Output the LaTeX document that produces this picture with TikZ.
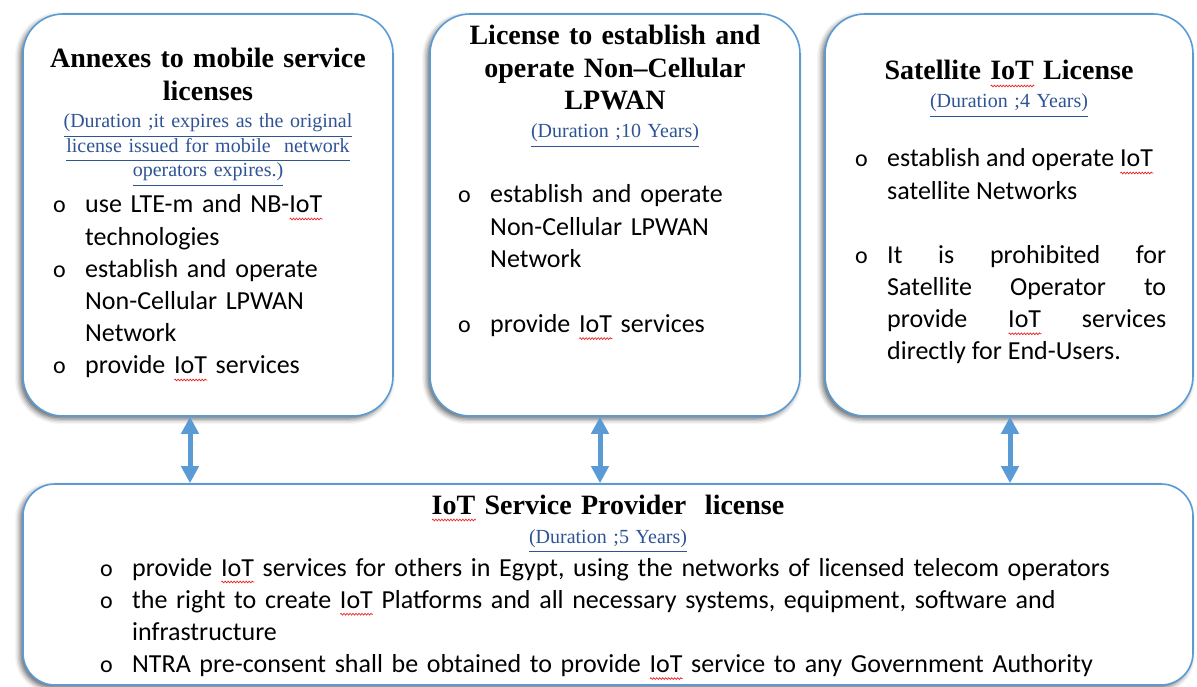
\documentclass[tikz,border=0pt]{standalone}
\usepackage{fontspec}
\setmainfont{Carlito}
\newfontfamily\serifface{Liberation Serif}
\usetikzlibrary{arrows.meta,shadows.blur,decorations.pathmorphing}

\definecolor{lineblue}{RGB}{91,155,213}
\definecolor{durblue}{RGB}{47,84,150}
\definecolor{spellred}{RGB}{235,40,40}

% bullet item, spell-check squiggle, underlined duration line
\newcommand\bul[1]{\hangindent=32pt\hangafter=1\noindent\makebox[32pt][l]{\fontsize{24}{24}\selectfont o}#1\par}
\newcommand\spell[1]{\setbox0=\hbox{#1}\leavevmode\rlap{\tikz[baseline=0pt]\draw[spellred, line width=0.7pt, decorate, decoration={zigzag, segment length=3pt, amplitude=0.9pt}] (0pt,-6pt) -- (\wd0,-6pt);}\box0\relax}
\newcommand\durl[1]{\setbox0=\hbox{#1}\leavevmode\rlap{\rule[-9pt]{\wd0}{1pt}}\box0\relax}

\hyphenpenalty=10000
\exhyphenpenalty=10000

\begin{document}
\begin{tikzpicture}[x=1pt, y=-1pt,
    licbox/.style={draw=lineblue, line width=1.6pt, fill=white, rounded corners=40pt,
      blur shadow={shadow xshift=-3pt, shadow yshift=-3pt, shadow blur radius=5pt, shadow opacity=60}},
    headtext/.style={font=\serifface\bfseries\fontsize{28}{32.5}\selectfont, align=center, anchor=base, text width=360pt, inner sep=0pt},
    durtext/.style={font=\serifface\fontsize{20}{24.5}\selectfont, text=durblue, align=center, anchor=base, text width=360pt, inner sep=0pt},
    itemtext/.style={font=\fontsize{26}{32.2}\selectfont, align=left, anchor=base west, inner sep=0pt},
    linkarrow/.style={draw=lineblue, line width=5pt, {Triangle[width=17pt,length=17pt]}-{Triangle[width=17pt,length=17pt]}}]
  \useasboundingbox (0,0) rectangle (1197,687);

  % boxes
  \node[licbox, minimum width=370pt, minimum height=402pt] (annex) at (208,215) {};
  \node[licbox, minimum width=370pt, minimum height=402pt] (lpwan) at (615,215) {};
  \node[licbox, minimum width=368pt, minimum height=402pt] (sat) at (1009,215) {};
  \node[licbox, rounded corners=32pt, minimum width=1170pt, minimum height=201pt] (isp) at (608,584.5) {};

  % annexes
  \node[headtext] (annex-t) at (208,68) {Annexes to mobile service\\licenses};
  \node[durtext] (annex-d) at (208,128) {\durl{(Duration ;it expires as the original}\\\durl{license issued for mobile~ network}\\\durl{operators expires.)}};
  \node[itemtext, text width=330pt] (annex-b) at (53,213) {%
    \bul{use LTE-m and NB-\spell{IoT}\newline technologies}
    \bul{establish and operate\newline Non-Cellular LPWAN\newline Network}
    \bul{provide \spell{IoT} services}};

  % non-cellular lpwan
  \node[headtext] (lpwan-t) at (615,45) {License to establish and\\operate Non–Cellular\\LPWAN};
  \node[durtext] (lpwan-d) at (615,138) {\durl{(Duration ;10 Years)}};
  \node[itemtext, text width=330pt] (lpwan-b) at (458,203) {%
    \bul{establish and operate\newline Non-Cellular LPWAN\newline Network}
    \vspace{33pt}
    \bul{provide \spell{IoT} services}};

  % satellite
  \node[headtext] (sat-t) at (1009,80) {Satellite \spell{IoT} License};
  \node[durtext] (sat-d) at (1009,108) {\durl{(Duration ;4 Years)}};
  \node[itemtext, align=justify, text width=311pt] (sat-b) at (855,167) {%
    \bul{establish and operate \spell{IoT}\newline satellite Networks}
    \vspace{32pt}
    \bul{It\hfill is\hfill prohibited\hfill for\break
      Satellite\hfill Operator\hfill to\break
      provide\hfill \spell{IoT}\hfill services\break
      directly for End-Users.}};

  % service provider
  \node[headtext, text width=900pt] (isp-t) at (608,514) {\spell{IoT} Service Provider~ license};
  \node[durtext] (isp-d) at (608,543) {\durl{(Duration ;5 Years)}};
  \node[itemtext, text width=1080pt] (isp-b) at (100,576) {%
    \bul{provide \spell{IoT} services for others in Egypt, using the networks of licensed telecom operators}
    \bul{the right to create \spell{IoT} Platforms and all necessary systems, equipment, software and\newline infrastructure}
    \bul{NTRA pre-consent shall be obtained to provide \spell{IoT} service to any Government Authority}};

  % links
  \coordinate (a1) at (190,0);
  \coordinate (a2) at (600,0);
  \coordinate (a3) at (1010,0);
  \draw[linkarrow] (annex.south -| a1) -- (isp.north -| a1);
  \draw[linkarrow] (lpwan.south -| a2) -- (isp.north -| a2);
  \draw[linkarrow] (sat.south -| a3) -- (isp.north -| a3);
\end{tikzpicture}
\end{document}
